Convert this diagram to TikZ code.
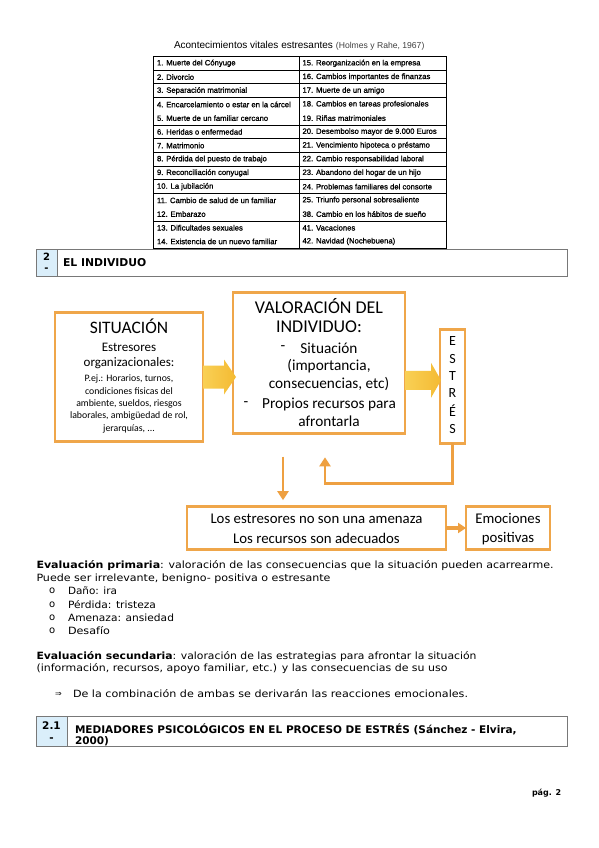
\documentclass[tikz,border=0pt]{standalone}
\usepackage{graphicx}
\usepackage{fontspec}
\setmainfont{DejaVu Sans}
\newfontfamily\calib{Carlito}
\newfontfamily\arialf{Liberation Sans}
\newfontfamily\tabf[FakeBold=1]{Liberation Sans}
\usetikzlibrary{arrows.meta,calc}
\definecolor{orng}{RGB}{239,166,74}
\definecolor{arrL}{RGB}{249,208,85}
\definecolor{arrR}{RGB}{244,186,50}
\definecolor{thinO}{RGB}{238,160,65}
\definecolor{hdrblue}{RGB}{218,238,250}
\definecolor{hdrgray}{RGB}{120,120,120}
\newcommand\fsz[1]{\fontsize{#1pt}{#1pt}\selectfont}
\newcommand\fitw[2]{\resizebox{#1pt}{\height}{#2}}
\begin{document}
\begin{tikzpicture}[x=1pt,y=-1pt,
  every node/.style={inner sep=0pt,outer sep=0pt},
  obox/.style={draw=orng,line width=2.6pt,fill=white,anchor=north west},
  hbox/.style={draw=hdrgray,line width=1pt,anchor=north west},
  hnum/.style={draw=hdrgray,line width=1pt,fill=hdrblue,anchor=north west},
  tabtxt/.style={anchor=west,font=\tabf\fsz{7.7}},
  ctxt/.style={anchor=center},
  ptxt/.style={anchor=west,font=\fsz{10}},
  tarrow/.style={draw=thinO,line width=2.6pt,-{Triangle[length=9pt,width=11pt]}},
  barrow/.style={left color=arrL,right color=arrR,draw=none}
]
\useasboundingbox (0,0) rectangle (599,848);
\fill[white] (0,0) rectangle (599,848);

% ---------- table ----------
\node[anchor=west,font=\arialf\fsz{10}] (ttl) at (174,45) {Acontecimientos vitales estresantes};
\node[anchor=base west,font=\arialf\fsz{8.6},text=black!75] (ttl2) at ($(ttl.base east)+(3,0)$) {(Holmes y Rahe, 1967)};
\node[draw,line width=0.9pt,anchor=north west,minimum width=293pt,minimum height=191.8pt] (tab) at (153,56.5) {};
\draw[line width=0.9pt] (tab.north) -- (tab.south);
\foreach \k in {1,2,3,5,6,7,8,9,10,12}
  \draw[line width=0.8pt] ($(tab.north west)+(0,{\k*13.7})$) -- ($(tab.north east)+(0,{\k*13.7})$);
\foreach \i/\l/\r in {
 1/{1. Muerte del Cónyuge}/{15. Reorganización en la empresa},
 2/{2. Divorcio}/{16. Cambios importantes de finanzas},
 3/{3. Separación matrimonial}/{17. Muerte de un amigo},
 4/{4. Encarcelamiento o estar en la cárcel}/{18. Cambios en tareas profesionales},
 5/{5. Muerte de un familiar cercano}/{19. Riñas matrimoniales},
 6/{6. Heridas o enfermedad}/{20. Desembolso mayor de 9.000 Euros},
 7/{7. Matrimonio}/{21. Vencimiento hipoteca o préstamo},
 8/{8. Pérdida del puesto de trabajo}/{22. Cambio responsabilidad laboral},
 9/{9. Reconciliación conyugal}/{23. Abandono del hogar de un hijo},
 10/{10. La jubilación}/{24. Problemas familiares del consorte},
 11/{11. Cambio de salud de un familiar}/{25. Triunfo personal sobresaliente},
 12/{12. Embarazo}/{38. Cambio en los hábitos de sueño},
 13/{13. Dificultades sexuales}/{41. Vacaciones},
 14/{14. Existencia de un nuevo familiar}/{42. Navidad (Nochebuena)}}
{
  \node[tabtxt] (tl\i) at (157,{56.5+(\i-0.5)*13.7}) {\l};
  \node[tabtxt] (tr\i) at (302.5,{56.5+(\i-0.5)*13.7}) {\r};
}

% ---------- header 2 ----------
\node[hbox,minimum width=531pt,minimum height=27pt] (h1) at (36,249) {};
\node[hnum,minimum width=21pt,minimum height=27pt] (h1n) at (36,249) {};
\node[font=\bfseries\fsz{10}] (h1a) at ($(h1n.north)+(0,8)$) {2};
\node[font=\bfseries\fsz{10}] (h1b) at ($(h1n.north)+(0,21)$) {-};
\node[anchor=west,font=\bfseries\fsz{10.8}] (h1t) at ($(h1n.east)+(6,0)$) {EL INDIVIDUO};

% ---------- diagram ----------
\node[obox,minimum width=148pt,minimum height=129pt] (sit) at (55,312.5) {};
\node[obox,minimum width=172pt,minimum height=140.6pt] (val) at (233,292.7) {};
\node[obox,minimum width=25pt,minimum height=114pt] (est) at (440,329.3) {};
\node[obox,minimum width=259pt,minimum height=42.6pt] (res) at (187,506.7) {};
\node[obox,minimum width=84pt,minimum height=42.6pt] (emo) at (466,506.7) {};

% texts situacion
\node[ctxt,font=\calib\fsz{17.5}] (s1) at (129,326.7) {SITUACIÓN};
\node[ctxt,font=\calib\fsz{13}] (s2) at (129,347.3) {Estresores};
\node[ctxt,font=\calib\fsz{13}] (s3) at (129,363.3) {organizacionales:};
\node[ctxt,font=\calib\fsz{9.8}] (s4) at (129,379) {P.ej.: Horarios, turnos,};
\node[ctxt,font=\calib\fsz{9.8}] (s5) at (129,391.3) {condiciones fisicas del};
\node[ctxt,font=\calib\fsz{9.8}] (s6) at (129,403.6) {ambiente, sueldos, riesgos};
\node[ctxt,font=\calib\fsz{9.8}] (s7) at (129,415.9) {laborales, ambigüedad de rol,};
\node[ctxt,font=\calib\fsz{9.8}] (s8) at (129,428.5) {jerarquías, ...};

% texts valoracion
\node[ctxt,font=\calib\fsz{18}] (v1) at (319,306) {VALORACIÓN DEL};
\node[ctxt,font=\calib\fsz{18}] (v2) at (319,327) {INDIVIDUO:};
\node[ctxt,font=\calib\fsz{15.3}] (v3d) at (283,348.3) {-};
\node[ctxt,font=\calib\fsz{15.3}] (v3) at (329,348.3) {Situación};
\node[ctxt,font=\calib\fsz{15.3}] (v4) at (329,366.2) {(importancia,};
\node[ctxt,font=\calib\fsz{15.3}] (v5) at (329,384.2) {consecuencias, etc)};
\node[ctxt,font=\calib\fsz{15.3}] (v6d) at (246,404) {-};
\node[ctxt,font=\calib\fsz{15.3}] (v6) at (329,404) {Propios recursos para};
\node[ctxt,font=\calib\fsz{15.3}] (v7) at (329,421.7) {afrontarla};

% ESTRES letters
\foreach \j/\c/\yy in {1/E/341,2/S/359,3/T/376.5,4/R/393.5,5/É/411,6/S/429}
  \node[ctxt,font=\calib\fsz{14}] (e\j) at (452.5,\yy) {\c};

% bottom boxes text
\node[ctxt,font=\calib\fsz{14.8}] (r1) at (316.5,518.5) {Los estresores no son una amenaza};
\node[ctxt,font=\calib\fsz{14.8}] (r2) at (316.5,538.3) {Los recursos son adecuados};
\node[ctxt,font=\calib\fsz{14.8}] (m1) at (508,518.5) {Emociones};
\node[ctxt,font=\calib\fsz{14.8}] (m2) at (508,538.3) {positivas};

% block arrows
\coordinate (a1s) at (sit.east);
\coordinate (a1e) at (sit.east -| val.west);
\shade[barrow] ($(a1s)+(0,-11.5)$) -- ($(a1e)+(-9,-11.5)$) -- ($(a1e)+(-9,-17.5)$) -- ($(a1e)+(3,0)$)
  -- ($(a1e)+(-9,17.5)$) -- ($(a1e)+(-9,11.5)$) -- ($(a1s)+(0,11.5)$) -- cycle;
\coordinate (a2e) at ($(est.west)+(0,-6)$);
\coordinate (a2s) at (val.east |- a2e);
\shade[barrow] ($(a2s)+(0,-9.5)$) -- ($(a2e)+(-9,-9.5)$) -- ($(a2e)+(-9,-17.5)$) -- ($(a2e)+(1,0)$)
  -- ($(a2e)+(-9,17.5)$) -- ($(a2e)+(-9,9.5)$) -- ($(a2s)+(0,9.5)$) -- cycle;

% thin arrows
\coordinate (d1) at ($(val.south)+(-36,23.4)$);
\coordinate (d2) at ($(res.north)+(-33.5,-6.5)$);
\draw[tarrow] (d1) -- (d2);
\coordinate (u2) at ($(val.south)+(6,24)$);
\draw[tarrow] (est.south) |- ($(u2)+(0,26)$) -- (u2);
\draw[draw=thinO,line width=3.2pt,-{Triangle[length=8pt,width=10pt]}] (res.east) -- (emo.west);

% ---------- text ----------
\node[ptxt] (p1) at (36.5,566) {\fitw{517}{\textbf{Evaluación primaria}: valoración de las consecuencias que la situación pueden acarrearme.}};
\node[ptxt] (p2) at (36.5,578.5) {\fitw{294}{Puede ser irrelevante, benigno- positiva o estresante}};
\foreach \j/\t/\w/\yy in {1/{Daño: ira}/49/591,2/{Pérdida: tristeza}/88/604.5,3/{Amenaza: ansiedad}/106/617.5,4/{Desafío}/42/631}
{
  \node[ptxt] (bo\j) at (49,\yy) {o};
  \node[ptxt] (bt\j) at (68,\yy) {\fitw{\w}{\t}};
}
\node[ptxt] (q1) at (36.5,656.5) {\fitw{440}{\textbf{Evaluación secundaria}: valoración de las estrategias para afrontar la situación}};
\node[ptxt] (q2) at (36.5,669) {\fitw{411}{(información, recursos, apoyo familiar, etc.) y las consecuencias de su uso}};
\node[ptxt,font=\fsz{8}] (imp) at (55,694) {⇒};
\node[ptxt] (impt) at (73,694) {\fitw{395}{De la combinación de ambas se derivarán las reacciones emocionales.}};

% ---------- header 2.1 ----------
\node[hbox,minimum width=531pt,minimum height=30pt] (h2) at (36,716.5) {};
\node[hnum,minimum width=31pt,minimum height=30pt] (h2n) at (36,716.5) {};
\node[font=\bfseries\fsz{10.5}] (h2a) at ($(h2n.north)+(0,9)$) {2.1};
\node[font=\bfseries\fsz{10.5}] (h2b) at ($(h2n.north)+(0,23)$) {-};
\node[anchor=west,font=\bfseries\fsz{10.5}] (h2t1) at (75,729) {MEDIADORES PSICOLÓGICOS EN EL PROCESO DE ESTRÉS (Sánchez - Elvira,};
\node[anchor=west,font=\bfseries\fsz{10.5}] (h2t2) at (75,741) {2000)};

\node[anchor=west,font=\bfseries\fsz{8}] (pg) at (532,793) {pág. 2};
\end{tikzpicture}
\end{document}
